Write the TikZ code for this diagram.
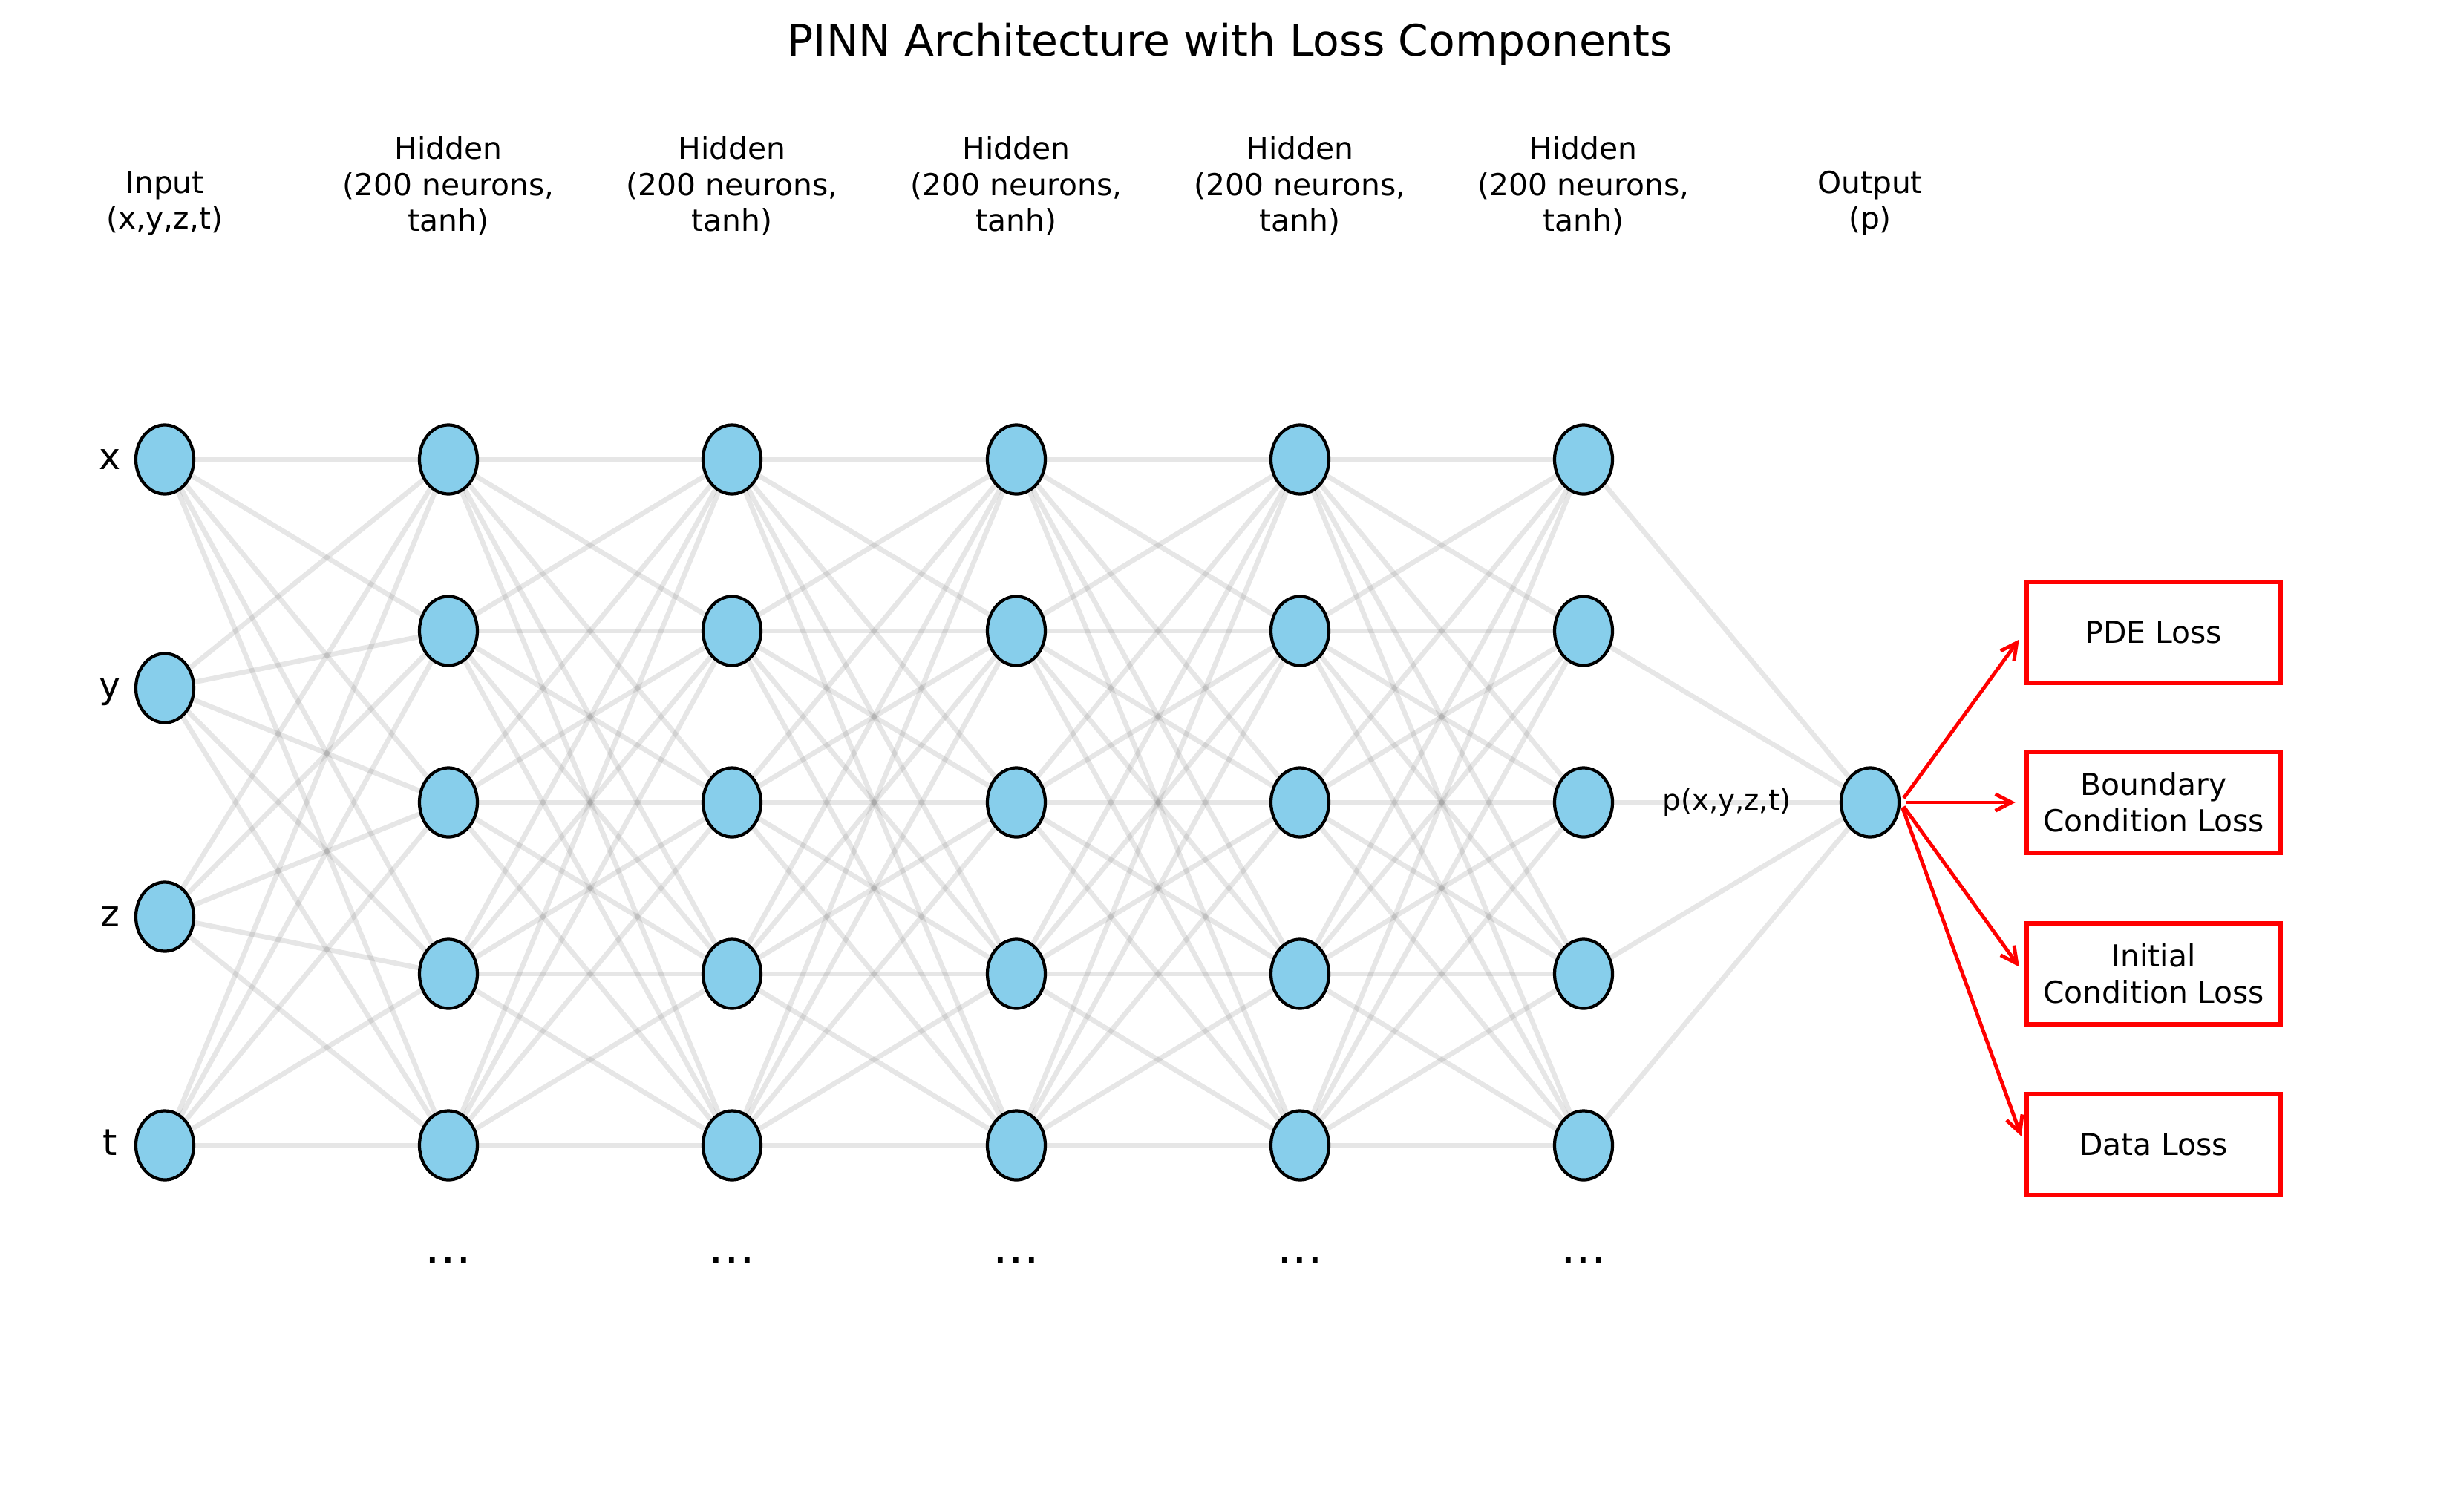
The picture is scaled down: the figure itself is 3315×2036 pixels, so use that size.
\documentclass[tikz,border=0pt]{standalone}
\usepackage{fontspec}
\setmainfont{DejaVu Sans}
\usetikzlibrary{shapes.geometric,arrows.meta}
\pgfdeclarelayer{background}
\pgfsetlayers{background,main}
\definecolor{skyblue}{HTML}{87CEEB}
\begin{document}
\begin{tikzpicture}[x=0.01cm,y=-0.01cm,
  neuron/.style={ellipse,draw=black,line width=1.2pt,fill=skyblue,minimum width=0.78cm,minimum height=0.93cm,inner sep=0pt},
  conn/.style={draw=gray,opacity=0.2,line width=1.9pt},
  lab/.style={anchor=south,align=center,inner sep=0pt,font=\fontsize{11.6}{13.8}\selectfont},
  varlab/.style={anchor=base,inner sep=0pt,font=\fontsize{14}{16}\selectfont},
  dotlab/.style={inner sep=0pt,font=\fontsize{18.5}{20}\selectfont},
  loss/.style={draw=red,line width=1.8pt,minimum width=3.42cm,minimum height=1.36cm,align=center,inner sep=0pt,font=\fontsize{11.6}{13.8}\selectfont},
  lossarrow/.style={draw=red,line width=1.4pt,shorten <=2pt,shorten >=3.4pt,-{Straight Barb[length=6.2pt,width=6.4pt,line width=1.4pt]}}]
\useasboundingbox (0,0) rectangle (3315,2036);
% title
\node[inner sep=0pt,font=\fontsize{16.6}{20}\selectfont] (title) at (1657,59) {PINN Architecture with Loss Components};
% input layer
\foreach \r/\v [count=\j] in {619/x,927/y,1235/z,1543/t} {
  \node[neuron] (in-\j) at (222,\r) {};
  \node[varlab] (var-\j) at (148,\r+13) {\v};
}
% hidden layers
\foreach \c [count=\i] in {604,986,1369,1751,2133} {
  \foreach \r [count=\j] in {619,850,1081,1312,1543}
    \node[neuron] (h\i-\j) at (\c,\r) {};
  \node[lab] (hl-\i) at (\c,318) {Hidden\\(200 neurons,\\tanh)};
  \node[dotlab] (dots-\i) at (\c,1698) {...};
}
% output
\node[neuron] (out) at (2519,1081) {};
\node[lab] (il) at (222,318) {Input\\(x,y,z,t)};
\node[lab] (ol) at (2519,318) {Output\\(p)};
\node[inner sep=0pt,font=\fontsize{11}{13}\selectfont] (plab) at (2326,1081) {p(x,y,z,t)};
% connections
\begin{pgfonlayer}{background}
  \foreach \j in {1,...,4}
    \foreach \k in {1,...,5}
      \draw[conn] (in-\j.center) -- (h1-\k.center);
  \foreach \i in {1,...,4} {
    \pgfmathtruncatemacro{\n}{\i+1}
    \foreach \j in {1,...,5}
      \foreach \k in {1,...,5}
        \draw[conn] (h\i-\j.center) -- (h\n-\k.center);
  }
  \foreach \j in {1,...,5}
    \draw[conn] (h5-\j.center) -- (out.center);
\end{pgfonlayer}
% losses
\node[loss] (pde) at (2901,852) {PDE Loss};
\node[loss] (bc) at (2901,1081) {Boundary\\Condition Loss};
\node[loss] (ic) at (2901,1312) {Initial\\Condition Loss};
\node[loss] (data) at (2901,1542) {Data Loss};
\foreach \b in {pde,bc,ic,data}
  \draw[lossarrow] (out.east) -- (\b.west);
\end{tikzpicture}
\end{document}
